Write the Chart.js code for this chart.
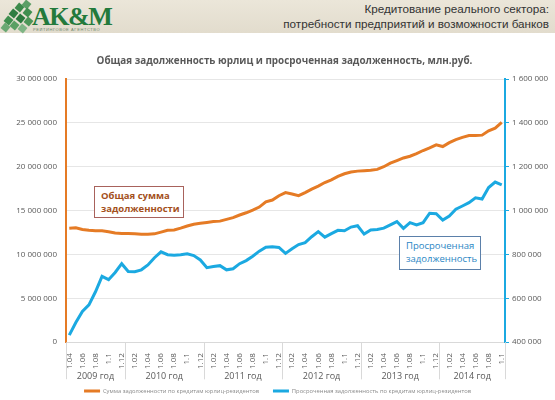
<!DOCTYPE html>
<html>
<head>
<meta charset="utf-8">
<script src="https://cdn.jsdelivr.net/npm/chart.js@4/dist/chart.umd.min.js"></script>
<style>
  body { margin: 0; width: 555px; height: 400px; overflow: hidden; background: #fff; position: relative; font-family: "Open Sans", sans-serif; }
  #hdr { position: absolute; left: 0; top: 0; width: 555px; height: 33px; background: linear-gradient(#ebe6d9, #e2dccd); }
  .leaf { position: absolute; width: 7px; height: 7px; transform: rotate(40deg); }
  #logo { position: absolute; left: 32px; top: 2px; font-family: "Liberation Serif", serif; font-weight: bold; font-size: 26px; color: #237a3c; letter-spacing: -1.5px; }
  #logoSub { position: absolute; left: 33px; top: 27px; font-family: "Liberation Sans", sans-serif; font-size: 4px; color: #6f8a6f; letter-spacing: 0.6px; }
  #hdrText { position: absolute; right: 6px; top: 2px; text-align: right; font-family: "Liberation Sans", Arial, sans-serif; font-size: 11.7px; line-height: 14.5px; color: #333; }
  #wrap { position: absolute; left: 0; top: 33px; }
  .note { position: absolute; font-size: 9.5px; line-height: 12.5px; padding: 3px 0 0 6px; box-sizing: border-box; background: #fff; }
  #note1 { left: 94px; top: 186px; width: 90px; height: 32px; border: 1px solid #a8625c; color: #a4501c; font-weight: bold; }
  #note2 { left: 399px; top: 236px; width: 82px; height: 34px; border: 1px solid #5b80aa; color: #2a86c4; }
</style>
</head>
<body>
<div id="hdr">
  <div class="leaf" style="left:2px;top:24px;background:#6aa873"></div>
  <div class="leaf" style="left:5px;top:17px;background:#3f8f4f"></div>
  <div class="leaf" style="left:10px;top:10px;background:#2f7d42"></div>
  <div class="leaf" style="left:11px;top:22px;background:#5aa064"></div>
  <div class="leaf" style="left:16px;top:4px;background:#3c8a4b"></div>
  <div class="leaf" style="left:17px;top:15px;background:#2a7a3e"></div>
  <div class="leaf" style="left:19px;top:25px;background:#7fb585"></div>
  <div class="leaf" style="left:23px;top:1px;background:#5c9e66"></div>
  <div class="leaf" style="left:24px;top:9px;background:#3f8f4f"></div>
  <div class="leaf" style="left:25px;top:18px;background:#4c9658"></div>
  <div id="logo">AK&amp;M</div>
  <div id="logoSub">РЕЙТИНГОВОЕ АГЕНТСТВО</div>
  <div id="hdrText">Кредитование реального сектора:<br>потребности предприятий и возможности банков</div>
</div>
<div id="wrap"><canvas id="chart" width="555" height="371"></canvas></div>
<div class="note" id="note1">Общая сумма<br>задолженности</div>
<div class="note" id="note2">Просроченная<br>задолженность</div>
<script>
const ORANGE = '#e57b25';
const BLUE = '#1ba9e1';
const FONT = '"Open Sans", sans-serif';

const chartTitle = 'Общая задолженность юрлиц и просроченная задолженность, млн.руб.';
const seriesNames = [
    'Сумма задолженности по кредитам юрлиц-резидентов',
    'Просроченная задолженность по кредитам юрлиц-резидентов'
];

// year groups shown under the month ticks
const yearLabels = ['2009 год', '2010 год', '2011 год', '2012 год', '2013 год', '2014 год'];
const yearMonths = [
    ['1.04', '1.05', '1.06', '1.07', '1.08', '1.09', '1.1', '1.11', '1.12'],
    ['1.01', '1.02', '1.03', '1.04', '1.05', '1.06', '1.07', '1.08', '1.09', '1.1', '1.11', '1.12'],
    ['1.01', '1.02', '1.03', '1.04', '1.05', '1.06', '1.07', '1.08', '1.09', '1.1', '1.11', '1.12'],
    ['1.01', '1.02', '1.03', '1.04', '1.05', '1.06', '1.07', '1.08', '1.09', '1.1', '1.11', '1.12'],
    ['1.01', '1.02', '1.03', '1.04', '1.05', '1.06', '1.07', '1.08', '1.09', '1.1', '1.11', '1.12'],
    ['1.01', '1.02', '1.03', '1.04', '1.05', '1.06', '1.07', '1.08', '1.09', '1.1']
];
const months = yearMonths.flat();

// total debt, mln rub (left axis)
const totalDebt = [
    13000000, 13050000, 12850000, 12750000, 12700000, 12700000, 12600000, 12450000, 12400000,
    12400000, 12350000, 12300000, 12300000, 12350000, 12550000, 12750000, 12800000, 13000000, 13250000, 13450000, 13550000,
    13650000, 13750000, 13800000, 14000000, 14200000, 14500000, 14750000, 15050000, 15400000, 16000000, 16200000, 16700000,
    17050000, 16900000, 16700000, 17050000, 17450000, 17800000, 18200000, 18500000, 18900000, 19200000, 19400000, 19500000,
    19550000, 19600000, 19700000, 20000000, 20400000, 20700000, 21000000, 21200000, 21500000, 21850000, 22150000, 22500000,
    22300000, 22750000, 23100000, 23350000, 23550000, 23550000, 23600000, 24100000, 24400000, 25050000
];

// overdue debt, mln rub (right axis)
const overdueDebt = [
    432000, 490000, 540000, 570000, 630000, 700000, 685000, 718000, 758000,
    722000, 721000, 730000, 752000, 785000, 812000, 799000, 797000, 799000, 803000, 795000, 775000,
    740000, 745000, 749000, 730000, 735000, 758000, 772000, 792000, 815000, 833000, 835000, 832000,
    805000, 826000, 845000, 854000, 881000, 904000, 879000, 895000, 910000, 908000, 925000, 931000,
    893000, 912000, 914000, 920000, 935000, 950000, 919000, 945000, 935000, 945000, 988000, 986000,
    957000, 975000, 1006000, 1021000, 1036000, 1058000, 1053000, 1105000, 1130000, 1117000
];

function spaced(v) {
    return String(v).replace(/\B(?=(\d{3})+(?!\d))/g, ' ');
}

// title, year separators and year captions
const extras = {
    id: 'extras',
    afterDraw(chart) {
        const ctx = chart.ctx;
        const area = chart.chartArea;
        const x = chart.scales.x;
        ctx.save();
        ctx.fillStyle = '#595959';
        ctx.font = 'bold 9.9px ' + FONT;
        ctx.textAlign = 'center';
        ctx.textBaseline = 'middle';
        ctx.fillText(chartTitle, (area.left + area.right) / 2 - 1, 28);

        ctx.strokeStyle = '#d9d9d9';
        ctx.lineWidth = 1;
        ctx.font = '9px ' + FONT;
        let start = 0;
        yearMonths.forEach((m, k) => {
            const end = start + m.length - 1;
            const x0 = x.getPixelForValue(start - 0.5);
            const x1 = x.getPixelForValue(end + 0.5);
            [x0, x1].forEach(px => {
                ctx.beginPath();
                ctx.moveTo(Math.round(px) + 0.5, x.top);
                ctx.lineTo(Math.round(px) + 0.5, x.top + 37);
                ctx.stroke();
            });
            ctx.fillText(yearLabels[k], (x0 + x1) / 2, x.top + 34);
            start = end + 1;
        });
        ctx.restore();
    }
};

new Chart(document.getElementById('chart'), {
    type: 'line',
    data: {
        labels: months,
        datasets: [{
            label: seriesNames[0],
            data: totalDebt,
            borderColor: ORANGE,
            backgroundColor: ORANGE,
            borderWidth: 3,
            pointRadius: 0,
            tension: 0,
            yAxisID: 'y'
        }, {
            label: seriesNames[1],
            data: overdueDebt,
            borderColor: BLUE,
            backgroundColor: BLUE,
            borderWidth: 3,
            pointRadius: 0,
            tension: 0,
            yAxisID: 'y1'
        }]
    },
    options: {
        responsive: false,
        animation: false,
        layout: { padding: { top: 46, left: 0, right: 0, bottom: 0 } },
        plugins: {
            tooltip: { enabled: false },
            legend: {
                position: 'bottom',
                labels: {
                    usePointStyle: true,
                    pointStyle: 'line',
                    pointStyleWidth: 16,
                    padding: 14,
                    color: '#8a8a8a',
                    font: { size: 5.8, family: FONT }
                }
            }
        },
        scales: {
            x: {
                offset: true,
                grid: { display: false },
                border: { color: '#d9d9d9' },
                ticks: {
                    autoSkip: false,
                    minRotation: 90,
                    maxRotation: 90,
                    padding: 3,
                    color: '#595959',
                    font: { size: 8, family: FONT },
                    callback: (v, i) => i % 2 === 0 ? months[i] : ''
                },
                afterFit: s => { s.height = 32; }
            },
            y: {
                position: 'left',
                min: 0,
                max: 30000000,
                ticks: {
                    stepSize: 5000000,
                    padding: 9,
                    color: '#595959',
                    font: { size: 8, family: FONT },
                    callback: v => spaced(v)
                },
                grid: { color: '#e6e6e6', drawTicks: false },
                border: { color: ORANGE, width: 2 },
                afterFit: s => { s.width = 66; }
            },
            y1: {
                position: 'right',
                min: 400000,
                max: 1600000,
                ticks: {
                    stepSize: 200000,
                    padding: 3,
                    color: '#595959',
                    font: { size: 8, family: FONT },
                    callback: v => spaced(v)
                },
                grid: { drawOnChartArea: false, color: BLUE, tickLength: 4 },
                border: { color: BLUE, width: 2 },
                afterFit: s => { s.width = 50; }
            }
        }
    },
    plugins: [extras]
});
</script>
</body>
</html>
